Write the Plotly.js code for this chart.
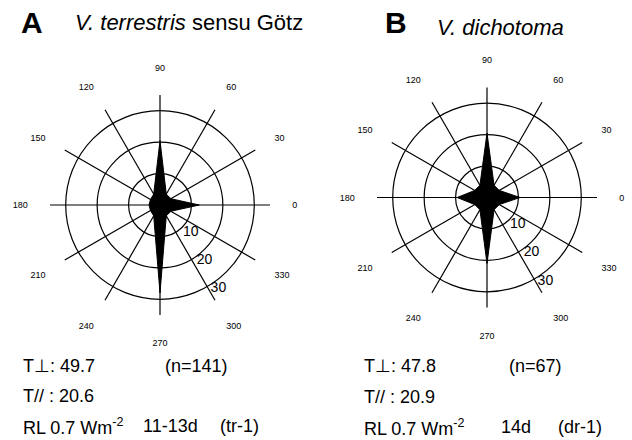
<!DOCTYPE html>
<html>
<head>
<meta charset="utf-8">
<script src="https://cdn.plot.ly/plotly-3.0.1.min.js"></script>
<style>html,body{margin:0;padding:0;background:#fff;}#chart{width:632px;height:440px;}</style>
</head>
<body>
<div id="chart"></div>
<script>
// Directions (degrees) and tick labels
const directions = [0, 30, 60, 90, 120, 150, 180, 210, 240, 270, 300, 330];
const directionLabels = ["0", "30", "60", "90", "120", "150", "180", "210", "240", "270", "300", "330"];
const radialTicks = [10, 20, 30];

// Panel A: V. terrestris sensu Götz
const valuesA = [12.5, 4, 4, 20.5, 4, 3.5, 3.5, 3.5, 4, 28, 4, 4];
// Panel B: V. dichotoma
const valuesB = [10.5, 4.5, 4.5, 20.5, 4.5, 4.5, 9.5, 4.5, 4.5, 21, 4.5, 4.5];

const W = 632, H = 440;
const px = x => x / W;
const py = y => 1 - y / H;

function closed(arr) { return arr.concat([arr[0]]); }

const traces = [
  {type: 'scatterpolar', subplot: 'polar', r: closed(valuesA), theta: closed(directions),
   mode: 'lines', fill: 'toself', fillcolor: 'black', line: {color: 'black', width: 1}, hoverinfo: 'skip'},
  {type: 'scatterpolar', subplot: 'polar2', r: closed(valuesB), theta: closed(directions),
   mode: 'lines', fill: 'toself', fillcolor: 'black', line: {color: 'black', width: 1}, hoverinfo: 'skip'}
];

function polarCfg(x0, x1, y0, y1) {
  return {
    domain: {x: [px(x0), px(x1)], y: [py(y1), py(y0)]},
    bgcolor: 'rgba(0,0,0,0)',
    radialaxis: {range: [0, 35], tickvals: radialTicks, angle: 296, side: 'counterclockwise',
      showline: false, ticks: '', tickangle: -64, gridcolor: 'black', gridwidth: 1.2,
      tickfont: {size: 14, color: 'black', family: 'Liberation Sans, Arial, sans-serif'}},
    angularaxis: {tickvals: directions, ticktext: directionLabels, rotation: 0, direction: 'counterclockwise',
      showline: false, ticks: 'outside', ticklen: 20, tickcolor: 'rgba(0,0,0,0)',
      gridcolor: 'black', gridwidth: 1.2,
      tickfont: {size: 9, color: 'black', family: 'Liberation Sans, Arial, sans-serif'}}
  };
}

const F = 'Liberation Sans, Arial, sans-serif';
function ann(text, x, y, size) {
  return {text: text, x: px(x), y: py(y), xref: 'paper', yref: 'paper', xanchor: 'left', yanchor: 'middle',
    showarrow: false, font: {size: size, color: 'black', family: F}};
}

const annotations = [
  ann('<b>A</b>', 19, 22, 30),
  ann('<i>V. terrestris</i> sensu Götz', 73, 23, 22),
  ann('<b>B</b>', 383, 23, 30),
  ann('<i>V. dichotoma</i>', 435, 27, 22),
  ann('T⊥: 49.7', 21, 366, 18),
  ann('(n=141)', 163, 366, 18),
  ann('T// : 20.6', 21, 396, 18),
  ann('RL 0.7 Wm<sup>-2</sup>', 21, 426, 18),
  ann('11-13d', 141, 426, 18),
  ann('(tr-1)', 218, 426, 18),
  ann('T⊥: 47.8', 362, 366, 18),
  ann('(n=67)', 507, 366, 18),
  ann('T// : 20.9', 362, 397, 18),
  ann('RL 0.7 Wm<sup>-2</sup>', 362, 427, 18),
  ann('14d', 499, 427, 18),
  ann('(dr-1)', 556, 427, 18)
];

const layout = {
  width: W, height: H,
  margin: {l: 0, r: 0, t: 0, b: 0},
  paper_bgcolor: 'white',
  showlegend: false,
  font: {family: F, color: 'black'},
  polar: polarCfg(50, 270, 95, 315),
  polar2: polarCfg(377, 597, 87.5, 307.5),
  annotations: annotations
};

Plotly.newPlot('chart', traces, layout, {staticPlot: true, displayModeBar: false});
</script>
</body>
</html>
